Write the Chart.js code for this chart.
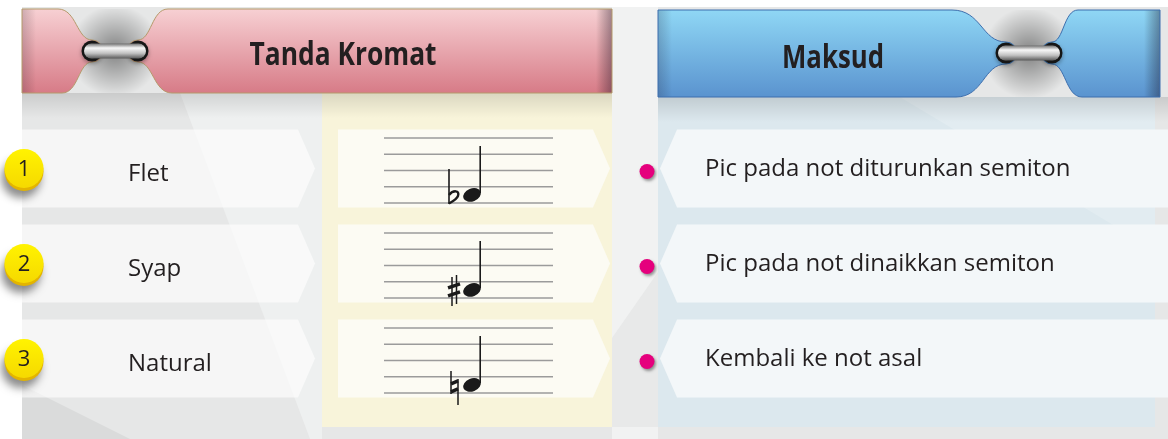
<!DOCTYPE html>
<html>
<head>
<meta charset="utf-8">
<script src="https://cdn.jsdelivr.net/npm/chart.js@4.4.0/dist/chart.umd.min.js"></script>
<style>
  html, body { margin: 0; padding: 0; background: #fff; overflow: hidden; }
  #wrap { width: 1168px; height: 439px; }
</style>
</head>
<body>
<div id="wrap"><canvas id="chart" width="1168" height="439"></canvas></div>
<script>
// table content
const headers = ['Tanda Kromat', 'Maksud'];
const badges = ['1', '2', '3'];
const symbols = ['Flet', 'Syap', 'Natural'];
const accidentals = ['flat', 'sharp', 'natural'];
const meanings = [
  'Pic pada not diturunkan semiton',
  'Pic pada not dinaikkan semiton',
  'Kembali ke not asal'
];

// layout, in pixels on the hidden x axis
const W = 1168, H = 439;
const nameCol = [22, 298];
const staffCol = [338, 593];
const meanCol = [677, 1168];
const TIP = 17;
const textFont = "'Open Sans', 'Noto Sans', sans-serif";
const titleFont = "bold 32px 'Open Sans', sans-serif";

function poly(c, pts, fill) {
  c.beginPath();
  c.moveTo(pts[0][0], pts[0][1]);
  for (let k = 1; k < pts.length; k++) c.lineTo(pts[k][0], pts[k][1]);
  c.closePath();
  c.fillStyle = fill;
  c.fill();
}

// header band: two pieces that end in an eyelet on each side of the ring
function bandPath(c, o) {
  const { x0, x1, y0, y1, px, py, gL, gR } = o;
  const r = 11, eL = px - 23, eR = px + 23;
  c.beginPath();
  c.moveTo(x0, y0);
  c.lineTo(gL, y0);
  c.bezierCurveTo(gL + (eL - gL) * 0.55, y0, eL - (eL - gL) * 0.45, py - r, eL, py - r);
  c.arc(eL, py, r, -Math.PI / 2, Math.PI / 2);
  c.bezierCurveTo(eL - (eL - gL - 4) * 0.45, py + r, gL + 4 + (eL - gL - 4) * 0.55, y1, gL + 4, y1);
  c.lineTo(x0, y1);
  c.closePath();

  c.moveTo(x1, y0);
  c.lineTo(gR, y0);
  c.bezierCurveTo(gR - (gR - eR) * 0.55, y0, eR + (gR - eR) * 0.45, py - r, eR, py - r);
  c.arc(eR, py, r, -Math.PI / 2, Math.PI / 2, true);
  c.bezierCurveTo(eR + (gR + 4 - eR) * 0.45, py + r, gR + 4 - (gR + 4 - eR) * 0.55, y1, gR + 4, y1);
  c.lineTo(x1, y1);
  c.closePath();
}

function ring(c, cx, cy) {
  c.save();
  c.shadowColor = 'rgba(0,0,0,0.35)';
  c.shadowBlur = 4;
  c.shadowOffsetY = 2;
  c.fillStyle = '#161616';
  c.beginPath(); c.arc(cx - 23, cy, 10.5, 0, Math.PI * 2); c.fill();
  c.beginPath(); c.arc(cx + 23, cy, 10.5, 0, Math.PI * 2); c.fill();
  c.restore();
  c.fillStyle = '#3a3a3a';
  c.beginPath(); c.arc(cx - 23, cy, 7.5, 0, Math.PI * 2); c.fill();
  c.beginPath(); c.arc(cx + 23, cy, 7.5, 0, Math.PI * 2); c.fill();
  const g = c.createLinearGradient(0, cy - 7.5, 0, cy + 7.5);
  g.addColorStop(0, '#707070');
  g.addColorStop(0.3, '#f8f8f8');
  g.addColorStop(0.65, '#c2c2c2');
  g.addColorStop(1, '#5a5a5a');
  c.fillStyle = g;
  c.beginPath(); c.roundRect(cx - 31, cy - 7.5, 62, 15, 7.5); c.fill();
}

function header(c, o) {
  // shadow in the pinch
  const rg = c.createRadialGradient(o.px, o.py, 4, o.px, o.py, 46);
  rg.addColorStop(0, 'rgba(0,0,0,0.40)');
  rg.addColorStop(1, 'rgba(0,0,0,0)');
  c.fillStyle = rg;
  c.fillRect(o.gL, o.y0, o.gR - o.gL + 4, o.y1 - o.y0);

  c.save();
  bandPath(c, o);
  const g = c.createLinearGradient(0, o.y0, 0, o.y1);
  g.addColorStop(0, o.top);
  g.addColorStop(1, o.bottom);
  c.fillStyle = g;
  c.fill();
  c.clip();
  let eg = c.createLinearGradient(o.x1 - 16, 0, o.x1, 0);
  eg.addColorStop(0, 'rgba(0,0,0,0)');
  eg.addColorStop(1, 'rgba(20,10,30,0.38)');
  c.fillStyle = eg;
  c.fillRect(o.x1 - 16, o.y0, 16, o.y1 - o.y0);
  eg = c.createLinearGradient(o.x0, 0, o.x0 + 14, 0);
  eg.addColorStop(0, 'rgba(20,10,30,0.18)');
  eg.addColorStop(1, 'rgba(0,0,0,0)');
  c.fillStyle = eg;
  c.fillRect(o.x0, o.y0, 14, o.y1 - o.y0);
  c.restore();

  bandPath(c, o);
  c.strokeStyle = o.edge;
  c.lineWidth = 1;
  c.stroke();

  ring(c, o.px, o.py);

  // title, squeezed to the width of the condensed original face
  c.save();
  c.fillStyle = '#231f20';
  c.font = titleFont;
  c.textAlign = 'center';
  c.textBaseline = 'alphabetic';
  const k = o.tw / c.measureText(o.text).width;
  c.translate(o.tx, o.ty);
  c.scale(k, 1);
  c.fillText(o.text, 0, 0);
  c.restore();
}

const backgroundPlugin = {
  id: 'panels',
  beforeDraw(chart) {
    const c = chart.ctx;
    c.save();
    c.fillStyle = '#fff';
    c.fillRect(0, 0, W, H);
    c.fillStyle = '#e6e7e7';
    c.fillRect(22, 7, W - 22, H - 7);
    poly(c, [[180, 93], [322, 93], [322, H], [310, H]], '#eef0f0');
    poly(c, [[22, 385], [130, H], [22, H]], '#dadbdb');
    // strip between the columns
    c.fillStyle = '#f1f2f2';
    c.fillRect(612, 7, 46, H - 7);
    poly(c, [[658, 272], [658, 427], [612, 427], [612, 338]], '#e8e9e9');
    // cream column and blue panel
    c.fillStyle = '#f8f4da';
    c.fillRect(322, 93, 290, 334);
    c.fillStyle = '#dce8ee';
    c.fillRect(658, 97, 497, 330);
    poly(c, [[900, 97], [1155, 97], [1155, 250]], 'rgba(255,255,255,0.18)');
    // header shadows
    let sg = c.createLinearGradient(0, 93, 0, 118);
    sg.addColorStop(0, 'rgba(0,0,0,0.12)');
    sg.addColorStop(1, 'rgba(0,0,0,0)');
    c.fillStyle = sg;
    c.fillRect(22, 93, 590, 25);
    sg = c.createLinearGradient(0, 97, 0, 122);
    sg.addColorStop(0, 'rgba(0,0,0,0.12)');
    sg.addColorStop(1, 'rgba(0,0,0,0)');
    c.fillStyle = sg;
    c.fillRect(658, 97, 510, 25);

    header(c, { x0: 22, x1: 612, y0: 9, y1: 93, px: 115, py: 51, gL: 58, gR: 168,
      top: '#f7d0d3', bottom: '#d77b87', edge: '#b59a6b',
      text: headers[0], tx: 343, ty: 65, tw: 187 });
    header(c, { x0: 658, x1: 1160, y0: 10, y1: 97, px: 1029, py: 53, gL: 952, gR: 1078,
      top: '#8fd7f5', bottom: '#5a93cf', edge: '#3d6fae',
      text: headers[1], tx: 833, ty: 68, tw: 102 });
    c.restore();
  }
};

function drawAccidental(c, kind, nx, ny) {
  c.strokeStyle = '#1a1a1a';
  c.fillStyle = '#1a1a1a';
  c.lineCap = 'butt';
  if (kind === 'flat') {
    const vx = nx - 23;
    c.lineWidth = 1.6;
    c.beginPath(); c.moveTo(vx, ny - 26); c.lineTo(vx, ny + 9); c.stroke();
    c.lineWidth = 2.4;
    c.beginPath();
    c.moveTo(vx, ny);
    c.bezierCurveTo(vx + 4, ny - 5, vx + 11, ny - 5, vx + 9, ny + 1);
    c.bezierCurveTo(vx + 8, ny + 4, vx + 3, ny + 7, vx, ny + 8.5);
    c.stroke();
  } else if (kind === 'sharp') {
    c.lineWidth = 1.5;
    c.beginPath();
    c.moveTo(nx - 20, ny - 13); c.lineTo(nx - 20, ny + 16);
    c.moveTo(nx - 15.5, ny - 15); c.lineTo(nx - 15.5, ny + 14);
    c.stroke();
    c.lineWidth = 3.5;
    c.beginPath();
    c.moveTo(nx - 24, ny - 2); c.lineTo(nx - 12, ny - 6);
    c.moveTo(nx - 24, ny + 6); c.lineTo(nx - 12, ny + 2);
    c.stroke();
  } else {
    c.lineWidth = 1.5;
    c.beginPath();
    c.moveTo(nx - 21, ny - 14); c.lineTo(nx - 21, ny + 9);
    c.moveTo(nx - 14, ny - 6); c.lineTo(nx - 14, ny + 20);
    c.stroke();
    c.lineWidth = 3.5;
    c.beginPath();
    c.moveTo(nx - 21, ny - 1); c.lineTo(nx - 14, ny - 4);
    c.moveTo(nx - 21, ny + 7); c.lineTo(nx - 14, ny + 4);
    c.stroke();
  }
}

const tablePlugin = {
  id: 'tableCells',
  afterDatasetsDraw(chart) {
    const c = chart.ctx;
    c.save();
    chart.data.datasets.forEach((ds, d) => {
      const meta = chart.getDatasetMeta(d);
      meta.data.forEach((el) => {
        const p = el.getProps(['x', 'base', 'y', 'height'], true);
        const l = Math.min(p.x, p.base), r = Math.max(p.x, p.base);
        const t = p.y - p.height / 2, b = p.y + p.height / 2;
        c.beginPath();
        if (ds.tip === 'right') {
          c.moveTo(r, t); c.lineTo(r + TIP, p.y); c.lineTo(r, b);
        } else {
          c.moveTo(l, t); c.lineTo(l - TIP, p.y); c.lineTo(l, b);
        }
        c.closePath();
        c.fillStyle = ds.backgroundColor;
        c.fill();
      });
    });

    const yScale = chart.scales.y;
    const xScale = chart.scales.x;
    symbols.forEach((label, i) => {
      const yc = yScale.getPixelForValue(i);

      // number badge
      c.save();
      c.shadowColor = 'rgba(0,0,0,0.45)';
      c.shadowBlur = 8;
      c.shadowOffsetX = -3;
      c.shadowOffsetY = 7;
      c.fillStyle = '#e3b400';
      c.beginPath(); c.arc(24, yc + 3, 19.5, 0, Math.PI * 2); c.fill();
      c.restore();
      const bg = c.createLinearGradient(0, yc - 18, 0, yc + 18);
      bg.addColorStop(0, '#fff200');
      bg.addColorStop(1, '#f6da00');
      c.fillStyle = bg;
      c.beginPath(); c.arc(24, yc, 19.5, 0, Math.PI * 2); c.fill();
      c.fillStyle = '#231f20';
      c.font = '22px ' + textFont;
      c.textAlign = 'center';
      c.textBaseline = 'middle';
      c.fillText(badges[i], 24, yc + 1);

      // symbol name
      c.textAlign = 'left';
      c.textBaseline = 'alphabetic';
      c.font = '24px ' + textFont;
      c.fillText(label, xScale.getPixelForValue(nameCol[0]) + 106, yc + 12);

      // staff
      const sx0 = xScale.getPixelForValue(staffCol[0]) + 46;
      const sx1 = xScale.getPixelForValue(staffCol[1]) - 40;
      const sc = yc + 2, sp = 16.3;
      c.strokeStyle = '#9b9b9b';
      c.lineWidth = 1.5;
      for (let k = -2; k <= 2; k++) {
        c.beginPath();
        c.moveTo(sx0, sc + k * sp);
        c.lineTo(sx1, sc + k * sp);
        c.stroke();
      }
      const nx = xScale.getPixelForValue(staffCol[0]) + 134;
      const ny = sc + 1.5 * sp;
      c.fillStyle = '#1a1a1a';
      c.beginPath();
      c.ellipse(nx, ny, 9.2, 6.4, -0.38, 0, Math.PI * 2);
      c.fill();
      c.strokeStyle = '#1a1a1a';
      c.lineWidth = 1.6;
      c.beginPath();
      c.moveTo(nx + 8.2, ny - 2);
      c.lineTo(nx + 8.2, ny - 49);
      c.stroke();
      drawAccidental(c, accidentals[i], nx, ny);

      // pink dot
      const mx = xScale.getPixelForValue(meanCol[0]);
      c.save();
      c.shadowColor = 'rgba(0,0,0,0.4)';
      c.shadowBlur = 3;
      c.shadowOffsetX = 1.5;
      c.shadowOffsetY = 2;
      c.fillStyle = '#e5007d';
      c.beginPath(); c.arc(mx - TIP - 13, yc + 3, 7.5, 0, Math.PI * 2); c.fill();
      c.restore();

      // meaning
      c.fillStyle = '#231f20';
      c.font = '24px ' + textFont;
      c.fillText(meanings[i], mx + 28, yc + 7);
    });
    c.restore();
  }
};

const rowHeight = 0.82;
new Chart(document.getElementById('chart'), {
  type: 'bar',
  data: {
    labels: symbols,
    datasets: [
      { label: 'name', data: symbols.map(() => nameCol), backgroundColor: 'rgba(255,255,255,0.62)', tip: 'right' },
      { label: 'staff', data: symbols.map(() => staffCol), backgroundColor: '#fcfbf3', tip: 'right' },
      { label: 'meaning', data: symbols.map(() => meanCol), backgroundColor: '#f3f7f9', tip: 'left' }
    ]
  },
  options: {
    indexAxis: 'y',
    responsive: false,
    animation: false,
    events: [],
    layout: { padding: { top: 121, bottom: 33, left: 0, right: 0 } },
    datasets: { bar: { grouped: false, barPercentage: 1, categoryPercentage: rowHeight, borderWidth: 0 } },
    scales: {
      x: { type: 'linear', min: 0, max: W, display: false },
      y: { type: 'category', display: false, offset: true }
    },
    plugins: { legend: { display: false }, tooltip: { enabled: false } }
  },
  plugins: [backgroundPlugin, tablePlugin]
});
</script>
</body>
</html>
